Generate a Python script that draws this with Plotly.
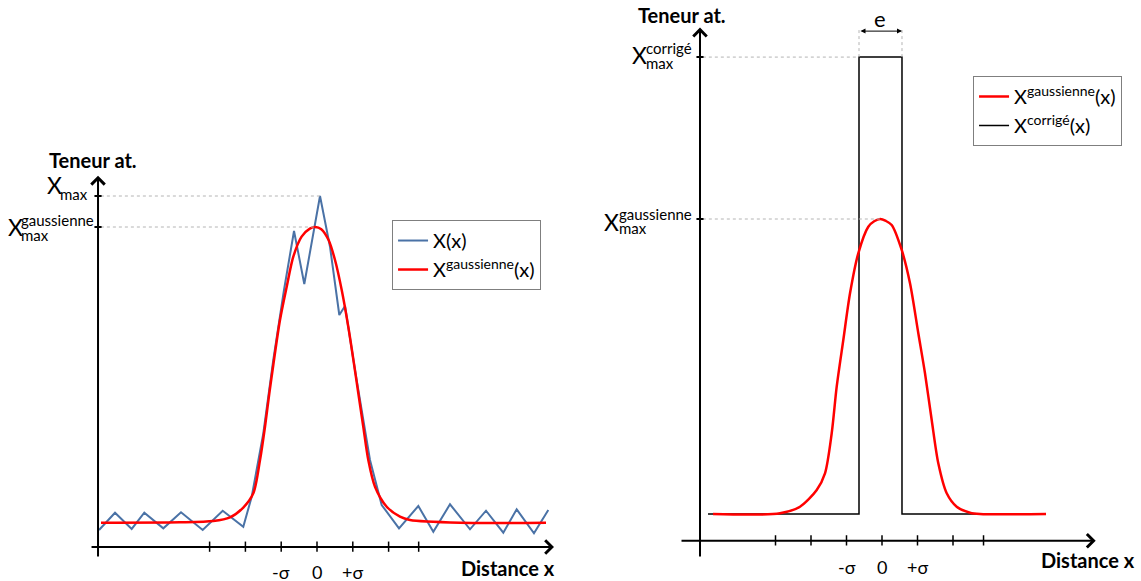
import plotly.graph_objects as go

# ---------------- data ----------------
# Left panel: measured profile X(x) and fitted gaussian
XL_MEAS = [-6.089, -5.642, -5.176, -4.824, -4.293, -3.799, -3.193, -2.634, -2.059, -1.824,
           -1.500, -1.221, -0.922, -0.642, -0.355, 0.084, 0.363, 0.623, 0.782, 1.061,
           1.480, 1.807, 2.291, 2.830, 3.249, 3.715, 4.274, 4.721, 5.204, 5.578, 6.061, 6.461]
YL_MEAS = [0.531, 1.072, 0.563, 1.072, 0.584, 1.084, 0.531, 1.134, 0.634, 1.572,
           3.553, 5.844, 8.031, 9.875, 8.219, 10.969, 9.384, 7.250, 7.531, 5.531,
           2.719, 1.313, 0.584, 1.281, 0.478, 1.334, 0.553, 1.134, 0.447, 1.178, 0.428, 1.156]

XL_GAUSS = [-6.034, -3.827, -2.897, -2.430, -2.059, -1.779, -1.592, -1.453, -1.332, -1.221,
            -1.034, -0.846, -0.662, -0.430, -0.200, -0.050, 0.120, 0.320, 0.503, 0.690,
            0.874, 1.034, 1.154, 1.293, 1.433, 1.620, 1.947, 2.318, 2.598, 3.994, 6.397]
YL_GAUSS = [0.759, 0.772, 0.813, 0.928, 1.234, 1.678, 2.719, 3.759, 4.803, 5.688,
            7.094, 8.134, 9.072, 9.700, 9.950, 10.000, 9.930, 9.600, 8.969, 8.031,
            6.884, 5.719, 4.803, 3.759, 2.719, 1.884, 1.259, 0.947, 0.844, 0.759, 0.759]

# Right panel: gaussian and corrected (step) profile
XR_GAUSS = [-4.761, -2.873, -2.310, -1.839, -1.606, -1.417, -1.276, -1.090, -0.901, -0.668,
            -0.386, -0.220, -0.050, 0.110, 0.273, 0.555, 0.789, 1.023, 1.211, 1.400, 1.586, 1.823,
            2.104, 2.479, 2.761, 4.620]
YR_GAUSS = [0.833, 0.854, 1.060, 1.581, 2.102, 3.349, 4.802, 6.258, 7.714, 8.962,
            9.790, 9.960, 10.031, 9.970, 9.844, 9.065, 8.026, 6.467, 5.220, 3.764, 2.413, 1.478,
            1.060, 0.873, 0.833, 0.833]

XR_CORR = [-4.901, -0.648, -0.648, 0.563, 0.563, 4.620]
YR_CORR = [0.833, 0.833, 15.080, 15.080, 0.833, 0.833]

TICKS_L = [-3, -2, -1, 0, 1, 2, 2.84]
TICKS_R = [-3, -2, -1, 0, 1, 2, 2.86]
TICK_LABEL_POS = [-1, 0, 1]
TICK_LABELS = ["-σ", "0", "+σ"]

# ---------------- styling ----------------
FONT = "Lato, 'Open Sans', sans-serif"
BLUE = "#4a72a6"
RED = "#ff0000"
BLACK = "#000000"
GUIDE = "#b4b4b4"

fig = go.Figure()

fig.add_trace(go.Scatter(x=XL_MEAS, y=YL_MEAS, mode="lines", name="X(x)",
                         line=dict(color=BLUE, width=2), xaxis="x", yaxis="y",
                         legend="legend"))
fig.add_trace(go.Scatter(x=XL_GAUSS, y=YL_GAUSS, mode="lines", name="X<sup>gaussienne</sup>(x)",
                         line=dict(color=RED, width=2.5, shape="spline", smoothing=0.8),
                         xaxis="x", yaxis="y", legend="legend"))
fig.add_trace(go.Scatter(x=XR_CORR, y=YR_CORR, mode="lines", name="X<sup>corrigé</sup>(x)",
                         line=dict(color=BLACK, width=1.5), xaxis="x2", yaxis="y2",
                         legend="legend2", legendrank=2))
fig.add_trace(go.Scatter(x=XR_GAUSS, y=YR_GAUSS, mode="lines", name="X<sup>gaussienne</sup>(x)",
                         line=dict(color=RED, width=2.5, shape="spline", smoothing=0.8),
                         xaxis="x2", yaxis="y2", legend="legend2", legendrank=1))

shapes = []
ann = []

def axis_arrow(xr, yr, x0, y0, x1, y1):
    ann.append(dict(xref=xr, yref=yr, axref=xr, ayref=yr, x=x1, y=y1, ax=x0, ay=y0,
                    text="", showarrow=True, arrowhead=4, arrowsize=1.3, arrowwidth=2,
                    arrowcolor=BLACK))

def txt(xr, yr, x, y, s, size=19, bold=False, xanchor="center", yanchor="middle"):
    if bold:
        s = "<b>" + s + "</b>"
    ann.append(dict(xref=xr, yref=yr, x=x, y=y, text=s, showarrow=False,
                    xanchor=xanchor, yanchor=yanchor,
                    font=dict(family=FONT, size=size, color=BLACK)))

def guide(xr, yr, x0, y0, x1, y1):
    shapes.append(dict(type="line", xref=xr, yref=yr, x0=x0, y0=y0, x1=x1, y1=y1,
                       line=dict(color=GUIDE, width=1, dash="dot")))

def seg(xr, yr, x0, y0, x1, y1, w=1.5):
    shapes.append(dict(type="line", xref=xr, yref=yr, x0=x0, y0=y0, x1=x1, y1=y1,
                       line=dict(color=BLACK, width=w)))

# ---------------- left panel ----------------
YAX_L = -6.117
axis_arrow("x", "y", -6.34, 0, 6.62, 0)
axis_arrow("x", "y", YAX_L, -0.34, YAX_L, 11.6)
for t in TICKS_L:
    seg("x", "y", t, -0.15, t, 0.17)
xmax_l = max(YL_MEAS)
xmax_l_x = XL_MEAS[YL_MEAS.index(xmax_l)]
xg_l = max(YL_GAUSS)
xg_l_x = XL_GAUSS[YL_GAUSS.index(xg_l)]
guide("x", "y", YAX_L + 0.08, xmax_l, xmax_l_x, xmax_l)
guide("x", "y", YAX_L + 0.08, xg_l, xg_l_x, xg_l)
seg("x", "y", YAX_L - 0.1, xmax_l, YAX_L + 0.1, xmax_l, 2)
seg("x", "y", YAX_L - 0.1, xg_l, YAX_L + 0.1, xg_l, 2)

txt("x", "y", -6.26, 12.09, "Teneur at.", size=20, bold=True)
txt("x", "y", -7.06, 11.31, "X", size=23, xanchor="right")
txt("x", "y", -7.24, 11.03, "max", size=15, xanchor="left")
txt("x", "y", -8.15, 10.0, "X", size=23, xanchor="right")
txt("x", "y", -8.33, 10.22, "gaussienne", size=15, xanchor="left")
txt("x", "y", -8.33, 9.76, "max", size=15, xanchor="left")
for p, s in zip(TICK_LABEL_POS, TICK_LABELS):
    txt("x", "y", p, -0.78, s, size=18)
txt("x", "y", 5.34, -0.66, "Distance x", size=20, bold=True)

# ---------------- right panel ----------------
YAX_R = -5.127
axis_arrow("x2", "y2", -5.69, 0, 6.02, 0)
axis_arrow("x2", "y2", YAX_R, -0.54, YAX_R, 16.0)
for t in TICKS_R:
    seg("x2", "y2", t, -0.15, t, 0.17)
xc_r = max(YR_CORR)
xg_r = max(YR_GAUSS)
xg_r_x = XR_GAUSS[YR_GAUSS.index(xg_r)]
e_left = XR_CORR[2]
e_right = XR_CORR[3]
guide("x2", "y2", YAX_R + 0.08, xc_r, e_left, xc_r)
guide("x2", "y2", YAX_R + 0.08, xg_r, xg_r_x, xg_r)
guide("x2", "y2", e_left, xc_r, e_left, 16.0)
guide("x2", "y2", e_right, xc_r, e_right, 16.0)
seg("x2", "y2", YAX_R - 0.1, xc_r, YAX_R + 0.1, xc_r, 2)
seg("x2", "y2", YAX_R - 0.1, xg_r, YAX_R + 0.1, xg_r, 2)
ann.append(dict(xref="x2", yref="y2", axref="x2", ayref="y2", x=e_right, y=15.89,
                ax=e_left, ay=15.89, text="", showarrow=True, arrowside="end+start",
                arrowhead=2, startarrowhead=2, arrowsize=1, startarrowsize=1,
                arrowwidth=1, arrowcolor=BLACK))
txt("x2", "y2", (e_left + e_right) / 2, 16.29, "e", size=22)

txt("x2", "y2", -5.63, 16.39, "Teneur at.", size=20, bold=True)
txt("x2", "y2", -6.56, 15.14, "X", size=23, xanchor="right")
txt("x2", "y2", -6.70, 15.37, "corrigé", size=15, xanchor="left")
txt("x2", "y2", -6.70, 14.90, "max", size=15, xanchor="left")
txt("x2", "y2", -7.35, 9.94, "X", size=23, xanchor="right")
txt("x2", "y2", -7.47, 10.20, "gaussienne", size=15, xanchor="left")
txt("x2", "y2", -7.47, 9.74, "max", size=15, xanchor="left")
for p, s in zip(TICK_LABEL_POS, TICK_LABELS):
    txt("x2", "y2", p, -0.81, s, size=18)
txt("x2", "y2", 5.79, -0.60, "Distance x", size=20, bold=True)

ax_common = dict(visible=False, fixedrange=True)
fig.update_layout(
    width=1141, height=581, autosize=False,
    margin=dict(l=0, r=0, t=0, b=0),
    paper_bgcolor="white", plot_bgcolor="white",
    font=dict(family=FONT, color=BLACK),
    xaxis=dict(domain=[0, 0.5], range=[-8.855, 7.081], **ax_common),
    yaxis=dict(domain=[0, 1], range=[-1.0625, 17.094], **ax_common),
    xaxis2=dict(domain=[0.5, 1], range=[-8.775, 7.296], **ax_common),
    yaxis2=dict(domain=[0, 1], range=[-1.257, 16.860], anchor="x2", **ax_common),
    shapes=shapes,
    annotations=ann,
    legend=dict(x=0.3436, y=0.6213, xanchor="left", yanchor="top",
                bordercolor="#7f7f7f", borderwidth=1, bgcolor="white",
                font=dict(family=FONT, size=20, color=BLACK), itemwidth=30,
                tracegroupgap=0),
    legend2=dict(x=0.8528, y=0.8692, xanchor="left", yanchor="top",
                 bordercolor="#7f7f7f", borderwidth=1, bgcolor="white",
                 font=dict(family=FONT, size=20, color=BLACK), itemwidth=30,
                 traceorder="normal"),
    showlegend=True,
)

fig.write_html("out.html", config={"displayModeBar": False},
               post_script="document.body.style.margin='0px';document.body.style.padding='0px';")
